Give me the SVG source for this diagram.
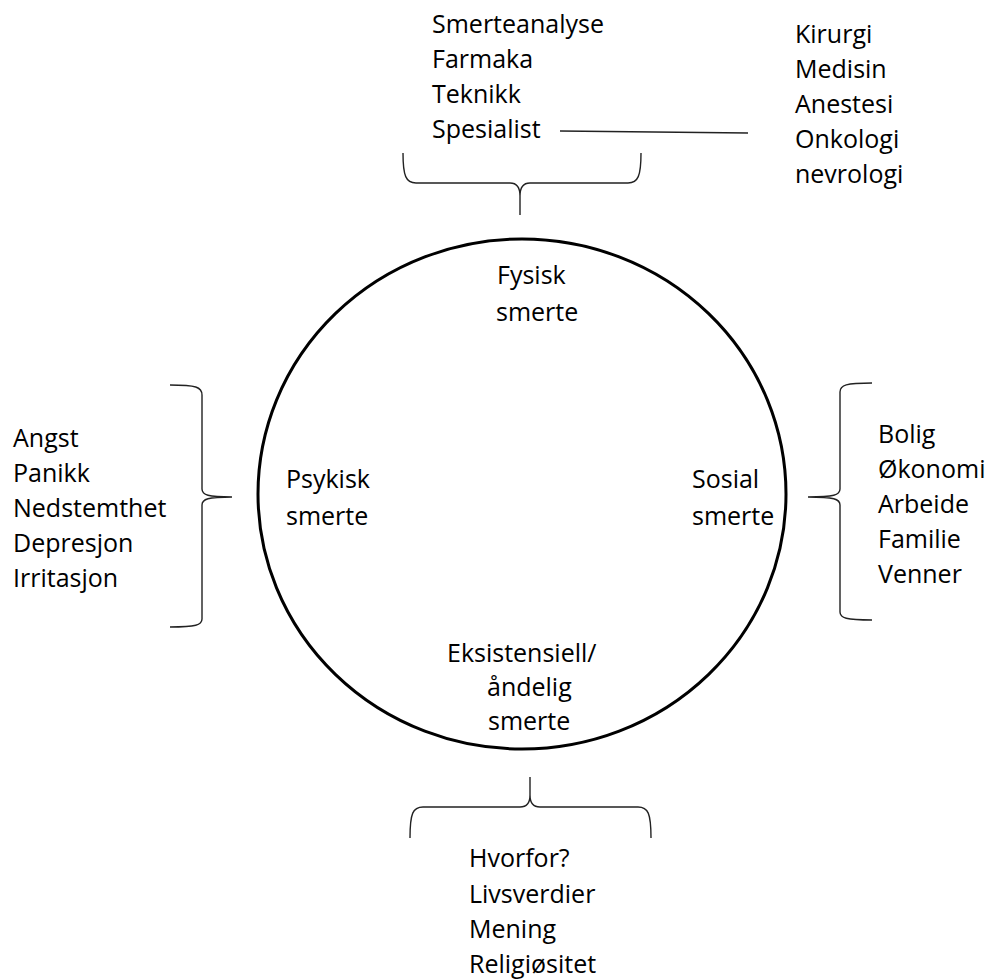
<svg xmlns="http://www.w3.org/2000/svg" width="986" height="980" viewBox="0 0 986 980">
<style>
text{font-family:"Open Sans","Liberation Sans",sans-serif;font-size:25px;fill:#000}
.brace{fill:none;stroke:#222;stroke-width:1.4}
.circle{fill:none;stroke:#000;stroke-width:3}
</style>
<rect width="986" height="980" fill="#fff"/>
<g id="circle-node">
<ellipse class="circle" cx="522" cy="494" rx="264" ry="255"/>
<text x="497" y="284">Fysisk</text>
<text x="496" y="321">smerte</text>
<text x="286" y="488">Psykisk</text>
<text x="286" y="525">smerte</text>
<text x="692" y="488">Sosial</text>
<text x="692" y="525">smerte</text>
<text x="447" y="662">Eksistensiell/</text>
<text x="487" y="696">åndelig</text>
<text x="488" y="730">smerte</text>
</g>
<g id="top-list">
<text x="432" y="33">Smerteanalyse</text>
<text x="432" y="68">Farmaka</text>
<text x="432" y="103">Teknikk</text>
<text x="432" y="138">Spesialist</text>
</g>
<g id="specialist-list">
<text x="795" y="43">Kirurgi</text>
<text x="795" y="78">Medisin</text>
<text x="795" y="113">Anestesi</text>
<text x="795" y="148">Onkologi</text>
<text x="795" y="183">nevrologi</text>
</g>
<g id="left-list">
<text x="13" y="447">Angst</text>
<text x="13" y="482">Panikk</text>
<text x="13" y="517">Nedstemthet</text>
<text x="13" y="552">Depresjon</text>
<text x="13" y="587">Irritasjon</text>
</g>
<g id="right-list">
<text x="878" y="443">Bolig</text>
<text x="878" y="478">Økonomi</text>
<text x="878" y="513">Arbeide</text>
<text x="878" y="548">Familie</text>
<text x="878" y="583">Venner</text>
</g>
<g id="bottom-list">
<text x="469" y="867">Hvorfor?</text>
<text x="469" y="903">Livsverdier</text>
<text x="469" y="938">Mening</text>
<text x="469" y="973">Religiøsitet</text>
</g>
<g id="connectors">
<path class="brace" d="M403,153 C403,176 406,183 416,183 L510,183 C517,183 520,187 520,196 L520,215 M520,196 C520,187 523,183 530,183 L628,183 C638,183 641,176 641,153"/>
<path class="brace" d="M170,385 C196,385 202,387 202,395 L202,489 C202,495 208,497 232,497 M232,497 C208,497 202,499 202,505 L202,619 C202,625 196,627 170,627"/>
<path class="brace" d="M872,383 C846,383 840,385 840,392 L840,489 C840,495 834,497 808,497 M808,497 C834,497 840,499 840,505 L840,612 C840,618 846,620 872,620"/>
<path class="brace" d="M410,838 C410,813 413,807 423,807 L520,807 C527,807 530,803 530,795 L530,777 M530,795 C530,803 533,807 540,807 L638,807 C648,807 651,813 651,838"/>
<line class="brace" x1="560" y1="131" x2="748" y2="133"/>
</g>
</svg>
